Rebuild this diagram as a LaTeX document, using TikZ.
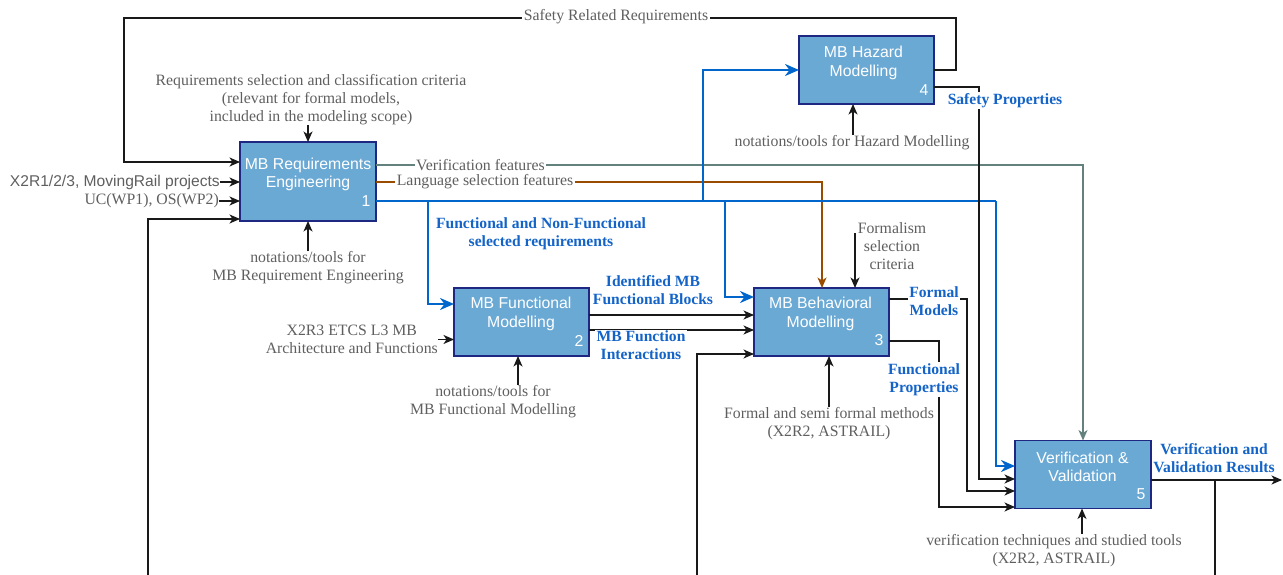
\documentclass[tikz,border=0pt]{standalone}
\usepackage{fontspec}
\setmainfont{Liberation Serif}
\setsansfont{Liberation Sans}
\usetikzlibrary{arrows.meta,calc}
\definecolor{boxfill}{RGB}{107,169,213}
\definecolor{boxedge}{RGB}{30,40,130}
\definecolor{txtgray}{RGB}{95,95,95}
\definecolor{linblue}{RGB}{0,102,204}
\definecolor{lblblue}{RGB}{20,100,200}
\definecolor{vergreen}{RGB}{100,130,125}
\definecolor{langbrown}{RGB}{153,76,0}
\definecolor{linblack}{RGB}{25,25,25}
\begin{document}
\begin{tikzpicture}[x=1pt,y=-1pt,
  procbox/.style={draw=boxedge, fill=boxfill, line width=1.5pt, minimum width=135, minimum height=68, inner sep=0, outer sep=0},
  boxtxt/.style={text=white, font=\sffamily\fontsize{15.8}{18.3}\selectfont, align=center, inner sep=0},
  boxnum/.style={text=white, font=\sffamily\fontsize{15.8}{18}\selectfont, inner sep=0},
  gtxt/.style={text=txtgray, font=\fontsize{15.8}{18}\selectfont, align=center, inner sep=0},
  stxt/.style={text=txtgray, font=\sffamily\fontsize{15.6}{18}\selectfont, inner sep=0},
  btxt/.style={text=lblblue, font=\bfseries\fontsize{15.6}{18}\selectfont, align=center, inner sep=0},
  wbg/.style={fill=white, inner sep=1.5pt},
  conn/.style={draw=linblack, line width=1.4pt},
  arr/.style={conn, -{Stealth[length=10.5pt,width=9pt,inset=3pt]}},
  blueline/.style={draw=linblue, line width=2.8pt},
  bluearr/.style={blueline, -{Stealth[length=14pt,width=12pt,inset=4.5pt]}},
  verarr/.style={draw=vergreen, line width=1.4pt, -{Stealth[length=10.5pt,width=9pt,inset=3pt]}},
  langarr/.style={draw=langbrown, line width=1.4pt, -{Stealth[length=10.5pt,width=9pt,inset=3pt]}}
]
\useasboundingbox (0,0) rectangle (1283,575);

% boxes
\node[procbox, minimum width=136, minimum height=79] (b1) at (308,181.5) {};
\node[procbox] (b2) at (521.5,322) {};
\node[procbox] (b3) at (821.5,322) {};
\node[procbox] (b4) at (866.5,70) {};
\node[procbox, minimum width=136] (b5) at (1083,474.5) {};

\node[boxtxt] (t1) at (308,174.5) {MB Requirements\\Engineering};
\node[boxtxt] (t2) at (521,314) {MB Functional\\Modelling};
\node[boxtxt] (t3) at (820.5,314) {MB Behavioral\\Modelling};
\node[boxtxt] (t4) at (863.5,63) {MB Hazard\\Modelling};
\node[boxtxt] (t5) at (1082.5,467) {Verification \&\\Validation};
\node[boxnum] (n1) at (366,201.5) {1};
\node[boxnum] (n2) at (579,340.5) {2};
\node[boxnum] (n3) at (879,340.5) {3};
\node[boxnum] (n4) at (924,90) {4};
\node[boxnum] (n5) at (1141,494.5) {5};

% text labels without background
\node[gtxt] (rsc) at (311,99.5) {Requirements selection and classification criteria\\(relevant for formal models,\\included in the modeling scope)};
\node[gtxt] (nt1) at (308,267.5) {notations/tools for\\MB Requirement Engineering};
\node[stxt, anchor=east] (x2r1) at (220,182) {X2R1/2/3, MovingRail projects};
\node[gtxt, anchor=east] (uc) at (219,201) {UC(WP1), OS(WP2)};
\node[gtxt, anchor=east] (x2r3) at (438,339.5) {X2R3 ETCS L3 MB\\Architecture and Functions};
\node[gtxt] (nt2) at (493,401.5) {notations/tools for\\MB Functional Modelling};
\node[gtxt] (fsc) at (892,246.5) {Formalism\\selection\\criteria};
\node[gtxt] (nt3) at (829,423.5) {Formal and semi formal methods\\(X2R2, ASTRAIL)};
\node[gtxt] (nt4) at (852,142.5) {notations/tools for Hazard Modelling};
\node[gtxt] (nt5) at (1054,550.5) {verification techniques and studied tools\\(X2R2, ASTRAIL)};
\node[btxt] (fnf) at (541,233.5) {Functional and Non-Functional\\selected requirements};
\node[btxt] (imb) at (653,290.5) {Identified MB\\Functional Blocks};
\node[btxt] (vvr) at (1214,458.5) {Verification and\\Validation Results};

% connectors
\coordinate (out) at (1282,480);
\draw[arr] (b4.east |- 0,70) -- (956,70) -- (956,18) -- (124,18) -- (124,162) -- (b1.west |- 0,162);
\draw[arr] (x2r1.east) -- (b1.west |- x2r1.east);
\draw[arr] (uc.east) -- (b1.west |- uc.east);
\draw[arr] (148,575) -- (148,219) -- (b1.west |- 0,219);
\draw[arr] (b1.north |- rsc.south) -- (b1.north);
\draw[arr] (b1.south |- nt1.north) -- (b1.south);

\draw[verarr] (b1.east |- 0,165) -- (1083,165) -- (b5.north);
\draw[langarr] (b1.east |- 0,182) -- (822,182) -- (b3.north -| 822,0);

\draw[blueline] (b1.east |- 0,201) -- (996,201);
\draw[bluearr] (996,201) -- (996,466) -- (b5.west |- 0,466);
\draw[bluearr] (428,201) -- (428,304) -- (b2.west |- 0,304);
\draw[bluearr] (703,201) -- (703,70) -- (b4.west |- 0,70);
\draw[bluearr] (725,201) -- (725,297) -- (b3.west |- 0,297);

\draw[arr] (x2r3.east) -- (b2.west |- x2r3.east);
\draw[arr] (nt2.north -| 518,0) -- (b2.south -| 518,0);
\draw[arr] (b2.east |- 0,315) -- (b3.west |- 0,315);
\draw[arr] (b2.east |- 0,330) -- (b3.west |- 0,330);
\draw[arr] (697,575) -- (697,354) -- (b3.west |- 0,354);

\draw[arr] (855,233) -- (b3.north -| 855,0);
\draw[arr] (nt3.north -| 829,0) -- (b3.south -| 829,0);
\draw[arr] (b3.east |- 0,299) -- (967,299) -- (967,491) -- (b5.west |- 0,491);
\draw[arr] (b3.east |- 0,341) -- (939,341) -- (939,507) -- (b5.west |- 0,507);

\draw[arr] (b4.east |- 0,87) -- (979,87) -- (979,479) -- (b5.west |- 0,479);
\draw[arr] (nt4.north -| 853,0) -- (b4.south -| 853,0);

\draw[arr] (nt5.north -| 1082,0) -- (b5.south -| 1082,0);
\draw[arr] (b5.east |- out) -- (out);
\draw[conn] (1215,480) -- (1215,575);

% labels with white background over lines
\node[gtxt, wbg] (srr) at (616,17) {Safety Related Requirements};
\node[gtxt, wbg] (vf) at (480.5,165) {Verification features};
\node[gtxt, wbg] (lsf) at (485,182) {Language selection features};
\node[btxt, wbg] (mbi) at (641,345.5) {MB Function\\Interactions};
\node[btxt, wbg] (fm) at (934,301.5) {Formal\\Models};
\node[btxt, wbg] (fp) at (924,379.5) {Functional\\Properties};
\node[btxt, wbg] (sp) at (1005,100.5) {Safety Properties};
\end{tikzpicture}
\end{document}
